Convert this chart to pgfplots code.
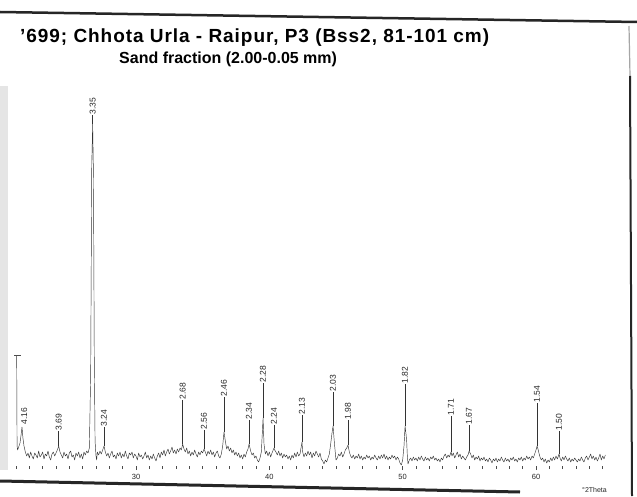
\documentclass[border=0pt]{standalone}
\usepackage{fontspec}
\setmainfont{Liberation Sans}
\usepackage{pgfplots}
\pgfplotsset{compat=1.18}
\begin{document}
\begin{tikzpicture}[x=1pt,y=1pt]
\useasboundingbox (0,0) rectangle (637,496);
\fill[white] (0,0) rectangle (637,496);
% scan edges
\fill[black!10] (0,26) rectangle (8,410);
\draw[line width=2.5pt, black!85] (0,484) -- (637,474);
\draw[line width=3pt, black!85] (0,15) -- (520,4);
\draw[line width=1.2pt, black!35] (629,470) -- (630,420);
\draw[line width=2pt, black!85] (630,420) -- (632,0);
\begin{axis}[
  at={(0pt,30pt)}, anchor=south west, scale only axis,
  width=637pt, height=466pt,
  xmin=19.8, xmax=67.575, ymin=30, ymax=496,
  clip=false,
  axis line style={draw=none},
  xtick pos=bottom, ytick=\empty,
  xtick={30,40,50,60}, minor xtick={21,22,...,65},
  tick align=outside, major tick length=4pt, minor tick length=3pt,
  every tick/.style={black!70, line width=0.5pt},
  xticklabel style={font=\fontsize{7.5}{8}\selectfont, text=black!85, yshift=-1pt},
  /pgf/number format/assume math mode=true,
  every axis plot/.append style={line join=round, mark=none},
]
\addplot[line width=0.45pt, black!80] coordinates {
(21.05,141)(21.08,50)(21.12,46)(21.2,49)(21.3,53)(21.38,61)(21.45,69)(21.52,58)(21.6,50)(21.7,44)(21.8,40)
(21.9,43)(22.0,38)(22.1,44)(22.2,40)(22.3,37)(22.4,43)(22.5,41)(22.6,38)(22.7,45)(22.8,39)(22.9,41)(23.0,44)
(23.1,37)(23.2,42)(23.3,40)(23.4,45)(23.5,39)(23.6,36)(23.7,42)(23.8,44)(23.9,40)(24.0,43)(24.1,46)(24.2,50)
(24.3,44)(24.4,41)(24.5,38)(24.6,44)(24.7,40)(24.8,42)(24.9,37)(25.0,43)(25.1,45)(25.2,39)(25.3,41)(25.4,36)
(25.5,43)(25.6,40)(25.7,44)(25.8,38)(25.9,42)(26.0,37)(26.1,44)(26.2,41)(26.3,45)
(26.4,43)(26.5,48)(26.6,120)(26.68,330)(26.75,372)(26.81,320)(26.87,140)(26.93,55)(27.0,40)(27.05,36)
(27.1,44)(27.2,41)(27.3,45)(27.4,42)(27.5,46)(27.6,50)(27.7,44)(27.8,40)(27.9,43)(28.0,38)(28.1,42)(28.2,45)
(28.3,39)(28.4,41)(28.5,37)(28.6,43)(28.7,40)(28.8,44)(28.9,38)(29.0,42)(29.1,39)(29.2,45)(29.3,40)(29.4,37)
(29.5,43)(29.6,41)(29.7,44)(29.8,38)(29.9,42)(30.0,40)(30.1,36)(30.2,43)(30.3,39)(30.4,41)(30.5,37)(30.6,40)
(30.7,44)(30.8,38)(30.9,41)(31.0,36)(31.1,40)(31.2,37)(31.3,42)(31.4,38)(31.5,35)(31.6,40)(31.7,43)(31.8,38)
(31.9,44)(32.0,41)(32.1,46)(32.2,40)(32.3,44)(32.4,47)(32.5,42)(32.6,45)(32.7,49)(32.8,43)(32.9,46)(33.0,42)
(33.1,47)(33.2,44)(33.3,48)(33.4,46)(33.5,52)(33.6,47)(33.7,44)(33.8,48)(33.9,42)(34.0,45)(34.1,40)(34.2,44)
(34.3,41)(34.4,46)(34.5,42)(34.6,39)(34.7,44)(34.8,41)(34.9,45)(35.0,43)(35.1,47)(35.2,44)(35.3,40)(35.4,45)
(35.5,42)(35.6,46)(35.7,41)(35.8,44)(35.9,39)(36.0,43)(36.1,45)(36.2,40)(36.3,38)(36.4,42)(36.5,50)(36.6,64)
(36.7,55)(36.8,47)(36.9,50)(37.0,45)(37.1,48)(37.2,43)(37.3,46)(37.4,41)(37.5,44)(37.6,40)(37.7,43)(37.8,38)
(37.9,41)(38.0,37)(38.1,42)(38.2,39)(38.3,44)(38.4,47)(38.48,52)(38.6,45)(38.7,41)(38.8,43)(38.9,38)(39.0,40)
(39.1,36)(39.2,34)(39.3,38)(39.4,44)(39.53,78)(39.6,52)(39.7,42)(39.8,45)(39.9,40)(40.0,44)(40.1,39)(40.2,43)
(40.35,48)(40.4,46)(40.5,44)(40.6,41)(40.7,45)(40.8,40)(40.9,43)(41.0,38)(41.1,42)(41.2,39)(41.3,41)(41.4,37)
(41.5,40)(41.6,36)(41.7,41)(41.8,38)(41.9,43)(42.0,39)(42.1,44)(42.2,40)(42.3,42)(42.45,54)(42.5,44)(42.6,39)
(42.7,43)(42.8,40)(42.9,45)(43.0,41)(43.1,44)(43.2,38)(43.3,43)(43.4,40)(43.5,45)(43.6,42)(43.7,39)(43.8,43)
(43.9,37)(44.0,35)(44.1,32)(44.2,36)(44.3,34)(44.4,38)(44.5,42)(44.6,52)(44.7,63)(44.78,70)(44.85,58)(44.9,50)
(45.0,36)(45.1,38)(45.2,42)(45.3,40)(45.4,44)(45.5,39)(45.6,42)(45.7,46)(45.8,48)(45.9,51)(46.0,44)(46.1,40)
(46.2,38)(46.3,41)(46.4,37)(46.5,40)(46.6,38)(46.7,42)(46.8,37)(46.9,40)(47.0,36)(47.1,39)(47.2,37)(47.3,41)
(47.4,38)(47.5,40)(47.6,36)(47.7,39)(47.8,37)(47.9,41)(48.0,38)(48.1,36)(48.2,40)(48.3,37)(48.4,41)(48.5,38)
(48.6,42)(48.7,37)(48.8,40)(48.9,36)(49.0,39)(49.1,37)(49.2,41)(49.3,38)(49.4,40)(49.5,36)(49.6,39)(49.7,37)
(49.8,33)(49.9,31)(50.0,36)(50.1,50)(50.18,70)(50.25,62)(50.3,55)(50.35,40)(50.4,32)(50.5,36)(50.6,38)(50.7,35)
(50.8,39)(50.9,36)(51.0,38)(51.1,35)(51.2,39)(51.3,36)(51.4,40)(51.5,37)(51.6,35)(51.7,39)(51.8,36)(51.9,38)
(52.0,35)(52.1,39)(52.2,37)(52.3,40)(52.4,36)(52.5,38)(52.6,35)(52.7,37)(52.8,34)(52.9,38)(53.0,36)(53.1,40)
(53.2,42)(53.3,38)(53.4,41)(53.5,39)(53.63,44)(53.7,40)(53.8,43)(53.9,38)(54.0,41)(54.1,44)(54.2,39)(54.3,42)
(54.4,37)(54.5,40)(54.6,38)(54.7,36)(54.8,39)(54.9,41)(54.98,45)(55.1,42)(55.2,38)(55.3,41)(55.4,36)(55.5,39)
(55.6,37)(55.7,40)(55.8,35)(55.9,38)(56.0,36)(56.1,39)(56.2,35)(56.3,37)(56.4,34)(56.5,38)(56.6,36)(56.7,33)
(56.8,37)(56.9,35)(57.0,38)(57.1,34)(57.2,37)(57.3,35)(57.4,39)(57.5,36)(57.6,34)(57.7,38)(57.8,35)(57.9,37)
(58.0,34)(58.1,38)(58.2,36)(58.3,39)(58.4,35)(58.5,37)(58.6,34)(58.7,38)(58.8,36)(58.9,39)(59.0,35)(59.1,38)
(59.2,36)(59.3,40)(59.4,37)(59.5,39)(59.6,36)(59.7,40)(59.8,38)(59.9,42)(60.0,46)(60.08,50)(60.15,47)(60.2,44)
(60.3,39)(60.4,36)(60.5,38)(60.6,34)(60.7,37)(60.8,33)(60.9,36)(61.0,34)(61.1,38)(61.2,35)(61.3,39)(61.4,36)
(61.5,40)(61.6,37)(61.73,42)(61.8,38)(61.9,35)(62.0,39)(62.1,36)(62.2,40)(62.3,37)(62.4,35)(62.5,38)(62.6,34)
(62.7,37)(62.8,35)(62.9,38)(63.0,36)(63.1,34)(63.2,37)(63.3,35)(63.4,39)(63.5,36)(63.6,34)(63.7,38)(63.8,40)
(63.9,36)(64.0,39)(64.1,42)(64.2,37)(64.3,40)(64.4,36)(64.5,39)(64.6,35)(64.7,38)(64.8,42)(64.9,36)(65.0,40)
(65.1,37)(65.2,41)
};
% start marker cap
\addplot[line width=0.6pt, black!70] coordinates {(20.85,141)(21.35,141)};
% leader lines from peak tops to labels
\addplot[line width=0.4pt, black!80] coordinates {(24.2,50)(24.2,65)};
\addplot[line width=0.4pt, black!80] coordinates {(26.75,372)(26.75,381)};
\addplot[line width=0.4pt, black!80] coordinates {(27.6,50)(27.6,69)};
\addplot[line width=0.4pt, black!80] coordinates {(33.5,52)(33.5,96)};
\addplot[line width=0.4pt, black!80] coordinates {(35.1,47)(35.1,66)};
\addplot[line width=0.4pt, black!80] coordinates {(36.6,64)(36.6,99)};
\addplot[line width=0.4pt, black!80] coordinates {(38.48,52)(38.48,76)};
\addplot[line width=0.4pt, black!80] coordinates {(39.53,78)(39.53,113)};
\addplot[line width=0.4pt, black!80] coordinates {(40.35,48)(40.35,71)};
\addplot[line width=0.4pt, black!80] coordinates {(42.45,54)(42.45,81)};
\addplot[line width=0.4pt, black!80] coordinates {(44.78,70)(44.78,104)};
\addplot[line width=0.4pt, black!80] coordinates {(45.9,51)(45.9,76)};
\addplot[line width=0.4pt, black!80] coordinates {(50.18,70)(50.18,112)};
\addplot[line width=0.4pt, black!80] coordinates {(53.63,44)(53.63,80)};
\addplot[line width=0.4pt, black!80] coordinates {(54.98,45)(54.98,71)};
\addplot[line width=0.4pt, black!80] coordinates {(60.08,50)(60.08,93)};
\addplot[line width=0.4pt, black!80] coordinates {(61.73,42)(61.73,65)};
% peak labels (d-spacings)
\begin{scope}[every node/.style={rotate=90, anchor=west, inner sep=0.4pt, text=black!85, font=\fontsize{8.5}{9}\selectfont}]
\node at (axis cs:21.62,71) {4.16};
\node at (axis cs:24.2,65) {3.69};
\node at (axis cs:26.75,381) {3.35};
\node at (axis cs:27.6,69) {3.24};
\node at (axis cs:33.5,96) {2.68};
\node at (axis cs:35.1,66) {2.56};
\node at (axis cs:36.6,99) {2.46};
\node at (axis cs:38.48,76) {2.34};
\node at (axis cs:39.53,113) {2.28};
\node at (axis cs:40.35,71) {2.24};
\node at (axis cs:42.45,81) {2.13};
\node at (axis cs:44.78,104) {2.03};
\node at (axis cs:45.9,76) {1.98};
\node at (axis cs:50.18,112) {1.82};
\node at (axis cs:53.63,80) {1.71};
\node at (axis cs:54.98,71) {1.67};
\node at (axis cs:60.08,93) {1.54};
\node at (axis cs:61.73,65) {1.50};
\end{scope}
\end{axis}
\node[anchor=base east, inner sep=0pt, text=black!85, font=\fontsize{7}{8}\selectfont] at (607,4) {°2Theta};
\node[anchor=base west, inner sep=0pt, font=\bfseries\fontsize{19}{21}\selectfont\addfontfeature{LetterSpace=5}] at (20,453) {'699; Chhota Urla - Raipur, P3 (Bss2, 81-101 cm)};
\node[anchor=base west, inner sep=0pt, font=\bfseries\fontsize{16}{18}\selectfont] at (119,432) {Sand fraction (2.00-0.05 mm)};
\end{tikzpicture}
\end{document}
